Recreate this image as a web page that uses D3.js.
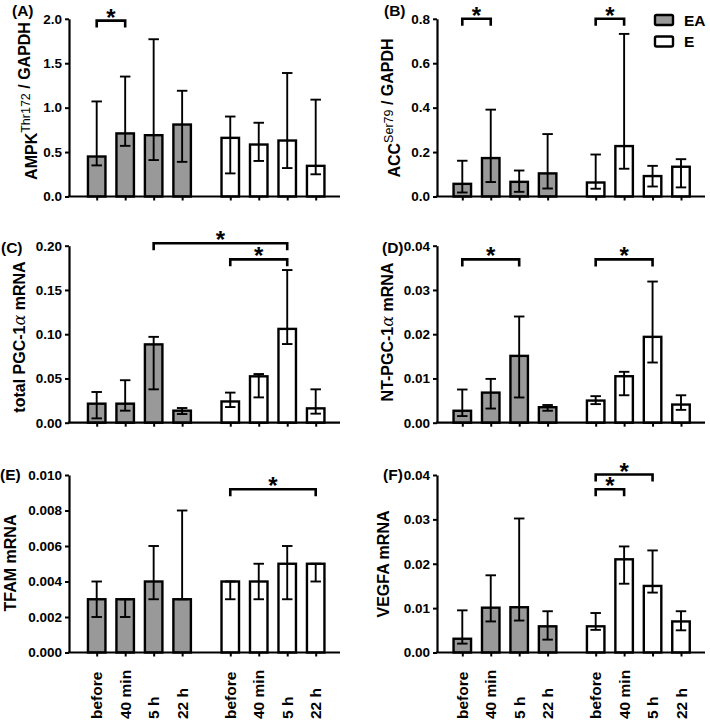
<!DOCTYPE html>
<html><head><meta charset="utf-8">
<script src="https://cdn.jsdelivr.net/npm/d3@7"></script>
<style>
html,body{margin:0;padding:0;background:#fff;}
svg{display:block;font-family:"Liberation Sans",Arial,sans-serif;font-weight:bold;}
</style></head>
<body><svg id="chart" width="710" height="724"></svg>
<script>
// ---------- data ----------
const categories = ["before","40 min","5 h","22 h"];
const groups = ["EA","E"];

const ampkMean = [0.45,0.71,0.69,0.81, 0.66,0.585,0.63,0.345];
const ampkLow  = [0.35,0.57,0.41,0.39, 0.26,0.40,0.32,0.25];
const ampkHigh = [1.07,1.35,1.77,1.19, 0.90,0.83,1.39,1.09];

const accMean = [0.057,0.173,0.066,0.104, 0.063,0.227,0.092,0.134];
const accLow  = [0.018,0.065,0.021,0.036, 0.035,0.125,0.045,0.041];
const accHigh = [0.161,0.391,0.117,0.281, 0.189,0.732,0.138,0.168];

const pgcMean = [0.0215,0.0215,0.0885,0.0136, 0.024,0.0524,0.106,0.0162];
const pgcLow  = [0.0049,0.0136,0.0377,0.0098, 0.0177,0.0286,0.0889,0.0102];
const pgcHigh = [0.0347,0.048,0.097,0.0166, 0.034,0.055,0.1725,0.0377];

const ntMean = [0.0027,0.0068,0.0151,0.0035, 0.005,0.0105,0.0194,0.0041];
const ntLow  = [0.0015,0.0032,0.0057,0.0027, 0.0042,0.0062,0.0136,0.0029];
const ntHigh = [0.0075,0.0099,0.024,0.004, 0.006,0.0115,0.0319,0.0062];

const tfamMean = [0.003,0.003,0.004,0.003, 0.004,0.004,0.005,0.005];
const tfamLow  = [0.002,0.002,0.003,0.003, 0.003,0.003,0.003,0.004];
const tfamHigh = [0.004,0.003,0.006,0.008, 0.004,0.005,0.006,0.005];

const vegfMean = [0.0031,0.0101,0.0102,0.0059, 0.0059,0.021,0.015,0.007];
const vegfLow  = [0.002,0.007,0.0072,0.0029, 0.0051,0.0155,0.0135,0.005];
const vegfHigh = [0.0095,0.0174,0.0302,0.0093, 0.0089,0.0239,0.023,0.0093];

const ticksA = [0,0.5,1.0,1.5,2.0];
const ticksB = [0,0.2,0.4,0.6,0.8];
const ticksC = [0,0.05,0.10,0.15,0.20];
const ticksD = [0,0.01,0.02,0.03,0.04];
const ticksE = [0,0.002,0.004,0.006,0.008,0.010];
const ticksF = [0,0.01,0.02,0.03,0.04];

// significance brackets: [fromIndex, toIndex, level]
const sigA = [[0,1,1.98]];
const sigB = [[0,1,0.80],[4,5,0.80]];
const sigC = [[2,6,0.2027],[4,6,0.1846]];
const sigD = [[0,2,0.0369],[4,6,0.0369]];
const sigE = [[4,7,0.0092]];
const sigF = [[4,6,0.0401],[4,5,0.0368]];

// ---------- layout ----------
const cols = [
  {axisX:69,  x0:96.7,  x1:315.7, end:340},
  {axisX:437, x0:462.3, x1:681,   end:705}
];
const rows = [
  {top:18.8, bottom:196.5},
  {top:245.7, bottom:422.7},
  {top:475, bottom:652.5}
];
const GAP = 0.69;
const slot = i => (i < 4 ? i : i + GAP);

const panels = [
  {id:"(A)", col:0,row:0, max:2.0, ticks:ticksA, fmt:".1f", mean:ampkMean,low:ampkLow,high:ampkHigh, sig:sigA,
   lab:[12,15.5], tx:37, ty:101, title:[["AMPK",{}],["Thr172",{sup:true}],[" / GAPDH",{}]]},
  {id:"(B)", col:1,row:0, max:0.8, ticks:ticksB, fmt:".1f", mean:accMean,low:accLow,high:accHigh, sig:sigB,
   lab:[384,15.5], tx:400, ty:108, title:[["ACC",{}],["Ser79",{sup:true}],[" / GAPDH",{}]]},
  {id:"(C)", col:0,row:1, max:0.2, ticks:ticksC, fmt:".2f", mean:pgcMean,low:pgcLow,high:pgcHigh, sig:sigC,
   lab:[1,252.5], tx:25, ty:337, title:[["total PGC-1",{}],["α",{alpha:true}],[" mRNA",{}]]},
  {id:"(D)", col:1,row:1, max:0.04, ticks:ticksD, fmt:".2f", mean:ntMean,low:ntLow,high:ntHigh, sig:sigD,
   lab:[382,252.5], tx:393, ty:332, title:[["NT-PGC-1",{}],["α",{alpha:true}],[" mRNA",{}]]},
  {id:"(E)", col:0,row:2, max:0.010, ticks:ticksE, fmt:".3f", mean:tfamMean,low:tfamLow,high:tfamHigh, sig:sigE,
   lab:[0,480], tx:15.5, ty:563, title:[["TFAM mRNA",{}]], xlabels:true},
  {id:"(F)", col:1,row:2, max:0.04, ticks:ticksF, fmt:".2f", mean:vegfMean,low:vegfLow,high:vegfHigh, sig:sigF,
   lab:[383,480], tx:388.5, ty:564, title:[["VEGFA mRNA",{}]], xlabels:true}
];

const svg = d3.select("#chart");
const barW = 17.5, capW = 10.5;

panels.forEach(p => {
  const c = cols[p.col], r = rows[p.row];
  const x = d3.scaleLinear().domain([0, slot(7)]).range([c.x0, c.x1]);
  const y = d3.scaleLinear().domain([0, p.max]).range([r.bottom, r.top]);
  const g = svg.append("g");
  const idx = d3.range(8);

  // bars
  g.selectAll("rect.bar").data(idx).join("rect")
    .attr("x", i => x(slot(i)) - barW/2)
    .attr("y", i => y(p.mean[i]))
    .attr("width", barW)
    .attr("height", i => y(0) - y(p.mean[i]))
    .attr("fill", i => i < 4 ? "#999999" : "#ffffff")
    .attr("stroke", "#000").attr("stroke-width", 2.4);

  // error bars
  const eb = g.selectAll("g.eb").data(idx).join("g")
    .attr("stroke", "#000").attr("stroke-width", 1.9);
  eb.append("line")
    .attr("x1", i => x(slot(i))).attr("x2", i => x(slot(i)))
    .attr("y1", i => y(p.low[i])).attr("y2", i => y(p.high[i]));
  eb.append("line")
    .attr("x1", i => x(slot(i)) - capW/2).attr("x2", i => x(slot(i)) + capW/2)
    .attr("y1", i => y(p.high[i])).attr("y2", i => y(p.high[i]));
  eb.append("line")
    .attr("x1", i => x(slot(i)) - capW/2).attr("x2", i => x(slot(i)) + capW/2)
    .attr("y1", i => y(p.low[i])).attr("y2", i => y(p.low[i]));

  // y axis
  const ya = g.append("g").attr("transform", `translate(${c.axisX},0)`)
    .call(d3.axisLeft(y).tickValues(p.ticks).tickSize(4).tickPadding(3)
      .tickFormat(d3.format(p.fmt)).tickSizeOuter(0));
  ya.select(".domain").attr("stroke-width", 2.2);
  ya.selectAll(".tick line").attr("stroke-width", 2);
  ya.selectAll("text").attr("font-size", 13.5).attr("font-weight", "bold")
    .attr("font-family", '"Liberation Sans",Arial,sans-serif').attr("fill", "#000");

  // x axis
  const xa = g.append("g").attr("transform", `translate(0,${y(0)})`)
    .call(d3.axisBottom(x).tickValues(idx.map(slot)).tickSize(4).tickFormat(""));
  xa.select(".domain").remove();
  xa.selectAll(".tick line").attr("stroke-width", 2);
  g.append("line").attr("x1", c.axisX - 1.1).attr("x2", c.end)
    .attr("y1", y(0)).attr("y2", y(0)).attr("stroke", "#000").attr("stroke-width", 2.2);

  if (p.xlabels) {
    idx.forEach(i => {
      g.append("text")
        .attr("transform", `translate(${x(slot(i))},719) rotate(-90)`)
        .attr("text-anchor", "start").attr("dy", "0.36em")
        .attr("font-size", 15.5).text(categories[i % 4]);
    });
  }

  // significance brackets
  p.sig.forEach(([a, b, lv]) => {
    const yy = y(lv), xa1 = x(slot(a)), xb1 = x(slot(b));
    g.append("path")
      .attr("d", `M${xa1},${yy + 7}V${yy}H${xb1}V${yy + 7}`)
      .attr("fill", "none").attr("stroke", "#000").attr("stroke-width", 2.6);
    g.append("text").attr("x", (xa1 + xb1)/2).attr("y", yy + 5)
      .attr("text-anchor", "middle").attr("font-size", 24).text("*");
  });

  // panel label
  g.append("text").attr("x", p.lab[0]).attr("y", p.lab[1]).attr("font-size", 15.5).text(p.id);

  // y title
  const t = g.append("text")
    .attr("transform", `translate(${p.tx},${p.ty}) rotate(-90)`)
    .attr("text-anchor", "middle").attr("font-size", 16);
  p.title.forEach(([s, o]) => {
    if (o.sup) {
      t.append("tspan").attr("font-size", 12.5).attr("font-weight", "normal").attr("dy", -7).text(s);
      t.append("tspan").attr("dy", 7).text("");
    } else if (o.alpha) {
      t.append("tspan").attr("font-weight", "normal").attr("font-family", '"DejaVu Serif",serif')
        .attr("font-style", "italic").text(s);
    } else {
      t.append("tspan").text(s);
    }
  });
});

// legend
const legend = svg.append("g");
groups.forEach((gname, i) => {
  const ly = 15 + i * 21.5;
  legend.append("rect").attr("x", 655).attr("y", ly).attr("width", 18).attr("height", 10)
    .attr("rx", 1.5).attr("fill", i === 0 ? "#999999" : "#ffffff")
    .attr("stroke", "#000").attr("stroke-width", 2.4);
  legend.append("text").attr("x", 684).attr("y", ly + 10.5).attr("font-size", 15.5).text(gname);
});
</script></body></html>
